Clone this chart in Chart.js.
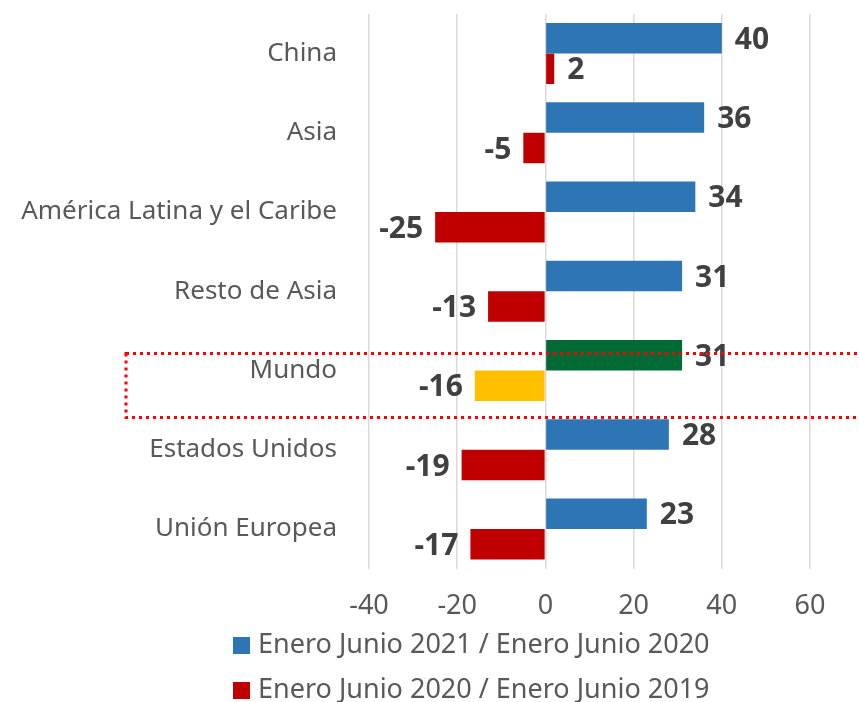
<!DOCTYPE html>
<html>
<head>
<meta charset="utf-8">
<script src="https://cdn.jsdelivr.net/npm/chart.js@4"></script>
<style>
  html, body { margin: 0; padding: 0; background: #fff; }
  #wrap { position: relative; width: 859px; height: 702px; }
  #legend { position: absolute; left: 233px; top: 624px; font-family: "Noto Sans", sans-serif; font-size: 27px; color: #595959; }
  .item { height: 45px; line-height: 38px; white-space: nowrap; }
  .box { display: inline-block; width: 17px; height: 17px; margin-right: 8px; vertical-align: -1px; }
</style>
</head>
<body>
<div id="wrap">
  <canvas id="chart"></canvas>
  <div id="legend"></div>
</div>
<script>
// Data
const categories = ['China', 'Asia', 'América Latina y el Caribe', 'Resto de Asia', 'Mundo', 'Estados Unidos', 'Unión Europea'];
const growth2021 = [40, 36, 34, 31, 31, 28, 23];
const growth2020 = [2, -5, -25, -13, -16, -19, -17];
const seriesNames = ['Enero Junio 2021 / Enero Junio 2020', 'Enero Junio 2020 / Enero Junio 2019'];
const seriesColors = ['#2E75B6', '#C00000'];
const highlightIndex = 4; // Mundo

const FONT = '"Noto Sans", sans-serif';

const blueColors = categories.map((c, i) => i === highlightIndex ? '#026A35' : seriesColors[0]);
const redColors = categories.map((c, i) => i === highlightIndex ? '#FFC000' : seriesColors[1]);

// value labels at the end of each bar
const valueLabels = {
  id: 'valueLabels',
  afterDatasetsDraw(chart) {
    const ctx = chart.ctx;
    ctx.save();
    ctx.font = 'bold 30px ' + FONT;
    ctx.fillStyle = '#404040';
    ctx.textBaseline = 'middle';
    chart.data.datasets.forEach((ds, di) => {
      chart.getDatasetMeta(di).data.forEach((bar, i) => {
        const v = ds.data[i];
        if (v >= 0) {
          ctx.textAlign = 'left';
          ctx.fillText(v, bar.x + 13, bar.y + 2);
        } else {
          ctx.textAlign = 'right';
          ctx.fillText(v, bar.x - 12, bar.y + 2);
        }
      });
    });
    ctx.restore();
  }
};

// dotted box around the highlighted category
const highlightBox = {
  id: 'highlightBox',
  afterDraw(chart) {
    const ctx = chart.ctx;
    const yc = chart.scales.y.getPixelForValue(highlightIndex);
    ctx.save();
    ctx.strokeStyle = '#FF0000';
    ctx.lineWidth = 3;
    ctx.setLineDash([3, 4]);
    ctx.strokeRect(126, yc - 17, 760, 64);
    ctx.restore();
  }
};

new Chart(document.getElementById('chart'), {
  type: 'bar',
  data: {
    labels: categories,
    datasets: [
      { label: seriesNames[0], data: growth2021, backgroundColor: blueColors },
      { label: seriesNames[1], data: growth2020, backgroundColor: redColors }
    ]
  },
  options: {
    indexAxis: 'y',
    responsive: true,
    maintainAspectRatio: false,
    animation: false,
    layout: { padding: { left: 10, right: 49, top: 14, bottom: 57 } },
    datasets: { bar: { categoryPercentage: 0.77, barPercentage: 1.0 } },
    scales: {
      x: {
        min: -40,
        max: 60,
        ticks: { stepSize: 20, color: '#595959', font: { family: FONT, size: 27 }, padding: 22 },
        grid: { color: '#D9D9D9', lineWidth: 1.5, drawTicks: false },
        border: { display: false }
      },
      y: {
        ticks: { color: '#595959', font: { family: FONT, size: 26 }, padding: 24 },
        grid: { display: false },
        border: { display: false },
        afterFit(scale) {
          scale.width = 359;
          scale.paddingTop = 0;
          scale.paddingBottom = 0;
        }
      }
    },
    plugins: {
      legend: { display: false },
      tooltip: { enabled: false }
    }
  },
  plugins: [valueLabels, highlightBox]
});

// legend below the chart, stacked like the original
const legendEl = document.getElementById('legend');
seriesNames.forEach((name, i) => {
  const row = document.createElement('div');
  row.className = 'item';
  row.innerHTML = '<span class="box" style="background:' + seriesColors[i] + '"></span>' + name;
  legendEl.appendChild(row);
});
</script>
</body>
</html>
